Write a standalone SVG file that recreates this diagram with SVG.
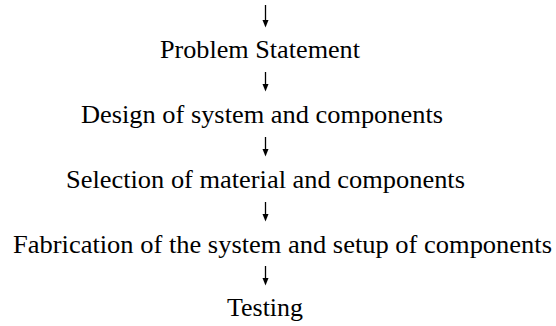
<svg xmlns="http://www.w3.org/2000/svg" width="556" height="326" viewBox="0 0 556 326">
<style>
text{font-family:"Liberation Serif","Times New Roman",serif;font-size:26px;fill:#000}
.c line{stroke:#000;stroke-width:1.3}
.c polygon{fill:#000}
</style>
<rect width="556" height="326" fill="#fff"/>
<g id="connectors" class="c">
<line x1="265.5" y1="5" x2="265.5" y2="22"/><polygon points="262.5,20 268.5,20 265.5,27.5"/>
<line x1="265.5" y1="72" x2="265.5" y2="86"/><polygon points="262.5,84 268.5,84 265.5,91.5"/>
<line x1="265.5" y1="137" x2="265.5" y2="151"/><polygon points="262.5,149 268.5,149 265.5,156.5"/>
<line x1="265.5" y1="202" x2="265.5" y2="216"/><polygon points="262.5,214 268.5,214 265.5,221.5"/>
<line x1="265.5" y1="266" x2="265.5" y2="280"/><polygon points="262.5,278 268.5,278 265.5,285.5"/>
</g>
<g id="problem"><text x="160" y="58" textLength="200" lengthAdjust="spacingAndGlyphs">Problem Statement</text></g>
<g id="design"><text x="81" y="123" textLength="362" lengthAdjust="spacingAndGlyphs">Design of system and components</text></g>
<g id="selection"><text x="66" y="188" textLength="399" lengthAdjust="spacingAndGlyphs">Selection of material and components</text></g>
<g id="fabrication"><text x="13" y="253" textLength="539" lengthAdjust="spacingAndGlyphs">Fabrication of the system and setup of components</text></g>
<g id="testing"><text x="227" y="316" textLength="76" lengthAdjust="spacingAndGlyphs">Testing</text></g>
</svg>
